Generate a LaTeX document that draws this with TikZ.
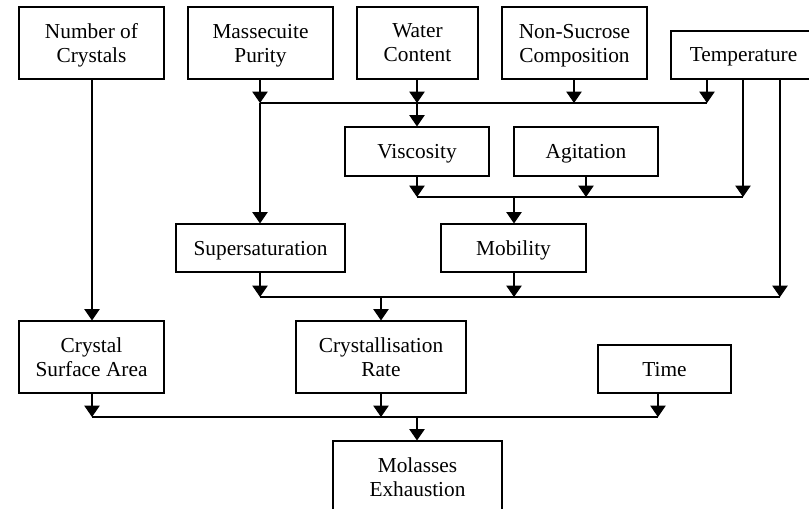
\documentclass[tikz,border=0pt]{standalone}
\usepackage{fontspec}
\setmainfont{Liberation Serif}
\usetikzlibrary{arrows.meta}

\begin{document}
\begin{tikzpicture}[x=0.75pt,y=0.75pt,yscale=-1,xscale=1,
  box/.style={draw, line width=0.8pt, inner sep=0pt, align=center, minimum height=54pt,
    font=\fontsize{16pt}{18pt}\selectfont, text depth=0pt},
  lowbox/.style={box, minimum height=36pt},
  link/.style={line width=0.8pt},
  feed/.style={line width=0.8pt, -{Triangle[width=11.5pt,length=8.5pt]}}]
\clip (0,0) rectangle (809,509);

% Text Node
\node [box, minimum width=108.75pt] (ncry) at (91.5,43) {Number of\\Crystals};
% Text Node
\node [box, minimum width=108.75pt] (mpur) at (260.5,43) {Massecuite\\Purity};
% Text Node
\node [box, minimum width=90.75pt] (water) at (417.5,43) {Water\\Content};
% Text Node
\node [box, minimum width=108.75pt] (nonsuc) at (574.5,43) {Non-Sucrose\\Composition};
% Text Node
\node [lowbox, minimum width=108.75pt] (temp) at (743.5,55) {Temperature};
% Text Node
\node [lowbox, minimum width=108pt, minimum height=36.75pt] (visc) at (417,151.5) {Viscosity};
% Text Node
\node [lowbox, minimum width=108pt, minimum height=36.75pt] (agit) at (586,151.5) {Agitation};
% Text Node
\node [lowbox, minimum width=126.75pt] (super) at (260.5,248) {Supersaturation};
% Text Node
\node [lowbox, minimum width=108.75pt] (mob) at (513.5,248) {Mobility};
% Text Node
\node [box, minimum width=108.75pt] (csa) at (91.5,357) {Crystal\\Surface Area};
% Text Node
\node [box, minimum width=127.5pt] (crate) at (381,357) {Crystallisation\\Rate};
% Text Node
\node [lowbox, minimum width=99.75pt] (time) at (664.5,369) {Time};
% Text Node
\node [box, minimum width=126.75pt] (mol) at (417.5,477) {Molasses\\Exhaustion};

% Junctions
\coordinate (a1) at (260,103);
\coordinate (a2) at (417,103);
\coordinate (a3) at (574,103);
\coordinate (a4) at (707,103);
\coordinate (b1) at (417,197);
\coordinate (b2) at (514,197);
\coordinate (b3) at (586,197);
\coordinate (b4) at (743,197);
\coordinate (c1) at (260,297);
\coordinate (c2) at (381,297);
\coordinate (c3) at (514,297);
\coordinate (c4) at (780,297);
\coordinate (d1) at (92,417);
\coordinate (d2) at (381,417);
\coordinate (d3) at (417,417);
\coordinate (d4) at (658,417);

% Connection
\draw [link] (a1) -- (a4) ;
% Connection
\draw [feed] (mpur.south -| a1) -- (a1) ;
% Connection
\draw [feed] (water.south -| a2) -- (a2) ;
% Connection
\draw [feed] (nonsuc.south -| a3) -- (a3) ;
% Connection
\draw [feed] (temp.south -| a4) -- (a4) ;
% Connection
\draw [feed] (a2) -- (visc.north -| a2) ;
% Connection
\draw [feed] (a1) -- (super.north -| a1) ;
% Connection
\draw [link] (b1) -- (b4) ;
% Connection
\draw [feed] (visc.south -| b1) -- (b1) ;
% Connection
\draw [feed] (agit.south -| b3) -- (b3) ;
% Connection
\draw [feed] (temp.south -| b4) -- (b4) ;
% Connection
\draw [feed] (b2) -- (mob.north -| b2) ;
% Connection
\draw [link] (c1) -- (c4) ;
% Connection
\draw [feed] (super.south -| c1) -- (c1) ;
% Connection
\draw [feed] (mob.south -| c3) -- (c3) ;
% Connection
\draw [feed] (temp.south -| c4) -- (c4) ;
% Connection
\draw [feed] (c2) -- (crate.north -| c2) ;
% Connection
\draw [feed] (ncry.south -| d1) -- (csa.north -| d1) ;
% Connection
\draw [link] (d1) -- (d4) ;
% Connection
\draw [feed] (csa.south -| d1) -- (d1) ;
% Connection
\draw [feed] (crate.south -| d2) -- (d2) ;
% Connection
\draw [feed] (time.south -| d4) -- (d4) ;
% Connection
\draw [feed] (d3) -- (mol.north -| d3) ;

\end{tikzpicture}
\end{document}
